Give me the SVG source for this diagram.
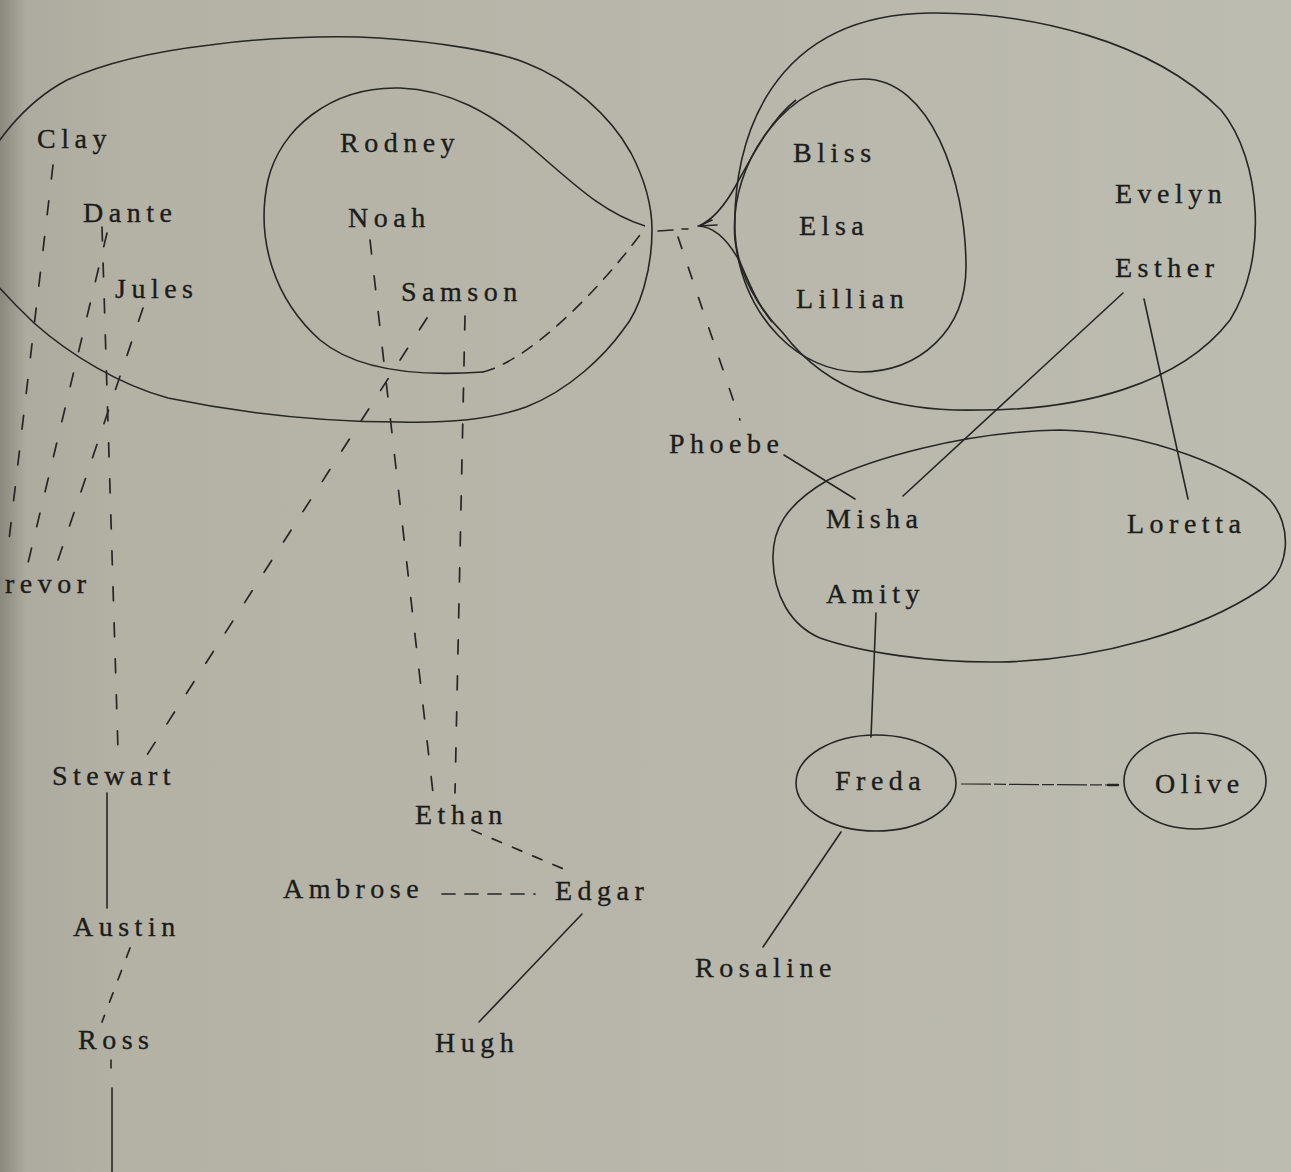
<svg xmlns="http://www.w3.org/2000/svg" width="1291" height="1172" viewBox="0 0 1291 1172">
<defs>
<linearGradient id="bg" x1="0" y1="0" x2="1" y2="0">
<stop offset="0" stop-color="#8a877d"/>
<stop offset="0.02" stop-color="#adab9f"/>
<stop offset="0.1" stop-color="#b4b2a5"/>
<stop offset="1" stop-color="#bdbcb1"/>
</linearGradient>
<style>
text{font-family:"Liberation Serif","DejaVu Serif",serif;font-size:28px;letter-spacing:5.5px;fill:#1c1c1a;stroke:#1c1c1a;stroke-width:0.35}
.s{fill:none;stroke:#262622;stroke-width:1.6;stroke-linecap:round}
.d{fill:none;stroke:#262622;stroke-width:1.7;stroke-dasharray:14 22;stroke-linecap:round}
.d2{fill:none;stroke:#262622;stroke-width:1.6;stroke-dasharray:12 10;stroke-linecap:round}
.ring{fill:none;stroke:#262622;stroke-width:1.6}
</style>
</defs>
<rect width="1291" height="1172" fill="url(#bg)"/>

<g id="enclosures">
<path id="outer-left" class="ring" d="M -20,175 C -10,150 20,105 67,80 C 100,65 150,52 210,45 C 260,38 330,35 379,38 C 440,42 500,52 526,63 C 570,80 610,115 631,153 C 645,180 652,205 652,230 C 652,270 640,310 623,330 C 605,355 570,390 526,407 C 490,420 440,423 400,422 C 330,422 250,415 168,398 C 120,385 70,355 34,323 C 15,305 0,290 -20,265"/>
<path id="teardrop" class="ring" d="M 645,226 C 600,212 570,180 526,143 C 490,113 450,90 400,88 C 330,86 280,130 268,180 C 255,240 275,300 320,340 C 350,365 400,378 483,372"/>
<path class="d2" d="M 483,372 C 530,360 600,290 645,228"/>
<path id="inner-right" class="ring" d="M 864,79 C 930,79 966,180 966,267 C 966,330 920,372 860,372 C 800,372 745,320 735,240 C 728,160 790,79 864,79 Z"/>
<path id="outer-right" class="ring" d="M 930,13 C 1030,12 1150,40 1221,110 C 1262,160 1268,260 1230,320 C 1180,385 1080,410 980,410 C 900,412 830,395 783,333 C 760,310 737,275 735,233 C 732,140 770,15 930,13 Z"/>
<path id="funnel" class="ring" d="M 796,100 C 770,120 750,160 735,187 C 725,205 712,220 699,226 C 715,227 728,240 740,262 C 750,285 758,305 772,322"/>
<path id="misha-group" class="ring" d="M 773,560 C 772,530 785,505 828,480 C 870,460 960,432 1060,430 C 1150,432 1240,470 1270,500 C 1292,525 1292,570 1260,590 C 1200,630 1100,660 1000,662 C 930,663 860,652 820,638 C 790,625 774,595 773,560 Z"/>
</g>

<g id="connectors">
<line class="d" x1="53" y1="165" x2="7" y2="557"/>
<line class="d" x1="107" y1="233" x2="28" y2="563"/>
<line class="d" x1="102" y1="227" x2="118" y2="750"/>
<line class="d" x1="143" y1="308" x2="58" y2="560"/>
<line class="d" x1="427" y1="318" x2="147" y2="755"/>
<line class="d" x1="370" y1="240" x2="433" y2="793"/>
<line class="d" x1="465" y1="316" x2="455" y2="793"/>
<line class="s" x1="107" y1="793" x2="107" y2="908"/>
<line class="d" x1="130" y1="948" x2="102" y2="1022" style="stroke-dasharray:10 14"/>
<line class="s" x1="111" y1="1060" x2="111" y2="1068"/>
<line class="s" x1="112" y1="1088" x2="112" y2="1172"/>
<line class="d" x1="472" y1="830" x2="573" y2="873" style="stroke-dasharray:10 12"/>
<line class="d" x1="442" y1="894" x2="535" y2="894" style="stroke-dasharray:13 10"/>
<line class="s" x1="582" y1="914" x2="479" y2="1022"/>
<path class="s" d="M 658,231 L 673,230 M 682,229 L 688,229 M 698,226 L 717,225 M 712,220 L 699,226"/>
<line class="d" x1="678" y1="237" x2="740" y2="420" style="stroke-dasharray:12 20"/>
<line class="s" x1="784" y1="455" x2="855" y2="499"/>
<line class="s" x1="1123" y1="293" x2="903" y2="496"/>
<line class="s" x1="1144" y1="299" x2="1188" y2="499"/>
<line class="s" x1="876" y1="613" x2="871" y2="737"/>
<line class="s" x1="841" y1="832" x2="763" y2="947"/>
<line x1="961" y1="784" x2="1108" y2="785" style="fill:none;stroke:#2a2a26;stroke-width:1.2;stroke-dasharray:30 3 12 3"/>
<line class="s" x1="1108" y1="785" x2="1118" y2="785" style="stroke-width:2.4"/>
</g>

<g id="node-freda"><ellipse class="ring" cx="876" cy="783" rx="80" ry="48"/><text x="835" y="790">Freda</text></g>
<g id="node-olive"><ellipse class="ring" cx="1195" cy="781" rx="71" ry="48"/><text x="1155" y="793">Olive</text></g>
<g id="node-clay"><text x="37" y="148">Clay</text></g>
<g id="node-dante"><text x="83" y="222">Dante</text></g>
<g id="node-jules"><text x="115" y="298">Jules</text></g>
<g id="node-trevor"><text x="5" y="593">revor</text></g>
<g id="node-rodney"><text x="340" y="152">Rodney</text></g>
<g id="node-noah"><text x="348" y="227">Noah</text></g>
<g id="node-samson"><text x="401" y="301">Samson</text></g>
<g id="node-bliss"><text x="793" y="162">Bliss</text></g>
<g id="node-elsa"><text x="799" y="235">Elsa</text></g>
<g id="node-lillian"><text x="796" y="308">Lillian</text></g>
<g id="node-evelyn"><text x="1115" y="203">Evelyn</text></g>
<g id="node-esther"><text x="1115" y="277">Esther</text></g>
<g id="node-phoebe"><text x="669" y="453">Phoebe</text></g>
<g id="node-misha"><text x="826" y="528">Misha</text></g>
<g id="node-loretta"><text x="1127" y="533">Loretta</text></g>
<g id="node-amity"><text x="826" y="603">Amity</text></g>
<g id="node-rosaline"><text x="695" y="977">Rosaline</text></g>
<g id="node-stewart"><text x="52" y="785">Stewart</text></g>
<g id="node-austin"><text x="73" y="936">Austin</text></g>
<g id="node-ross"><text x="78" y="1049">Ross</text></g>
<g id="node-ethan"><text x="415" y="824">Ethan</text></g>
<g id="node-ambrose"><text x="283" y="898">Ambrose</text></g>
<g id="node-edgar"><text x="555" y="900">Edgar</text></g>
<g id="node-hugh"><text x="435" y="1052">Hugh</text></g>
</svg>
